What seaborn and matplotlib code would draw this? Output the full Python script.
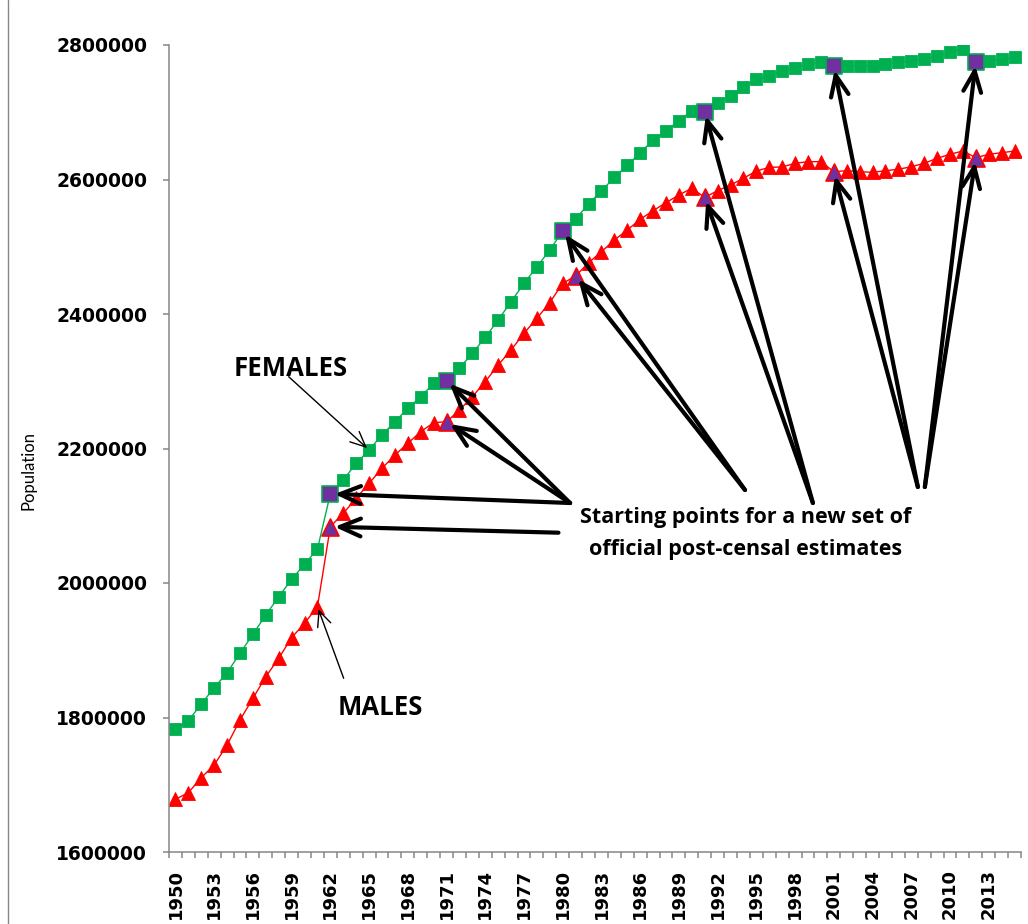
import matplotlib
matplotlib.use("Agg")
import matplotlib.pyplot as plt
from matplotlib.lines import Line2D
import numpy as np
import pandas as pd
import seaborn as sns

# ---------------- data ----------------
years = list(range(1950, 2016))
females = [1782400, 1795200, 1820000, 1844300, 1866600, 1895500, 1923700, 1952400,
           1979600, 2005500, 2027800, 2050600, 2132600, 2153200, 2178000, 2197800,
           2220100, 2239800, 2259800, 2277000, 2297000, 2300800, 2319300, 2341600,
           2365400, 2391100, 2418300, 2445600, 2470300, 2495200, 2523400, 2541300,
           2563600, 2582900, 2603300, 2621100, 2639800, 2658700, 2672600, 2687400,
           2702300, 2700800, 2714200, 2724200, 2737100, 2749000, 2753900, 2761300,
           2765800, 2771300, 2774300, 2768800, 2769200, 2769200, 2769200, 2771300,
           2774300, 2776700, 2778700, 2783600, 2789100, 2794100, 2775200, 2776700,
           2778700, 2781700]
males = [1678400, 1688200, 1710500, 1729400, 1759100, 1796300, 1828500, 1860700,
         1888000, 1918700, 1940100, 1964800, 2083700, 2103600, 2125900, 2148200,
         2170600, 2190300, 2207700, 2225000, 2238400, 2239800, 2257200, 2277000,
         2299300, 2324200, 2346500, 2371300, 2393600, 2417100, 2445600, 2456500,
         2476300, 2492600, 2510000, 2524900, 2540800, 2553600, 2565500, 2577000,
         2586900, 2573500, 2583300, 2591800, 2601800, 2612600, 2618100, 2618600,
         2624100, 2626500, 2626500, 2611600, 2613100, 2611600, 2610700, 2613100,
         2615200, 2619000, 2624100, 2631500, 2637500, 2642400, 2632400, 2637500,
         2639800, 2642400]
female_new_set_years = [1962, 1971, 1980, 1991, 2001, 2012]
male_new_set_years = [1962, 1971, 1981, 1991, 2001, 2012]
y_ticks = [1600000, 1800000, 2000000, 2200000, 2400000, 2600000, 2800000]
x_label_years = years[::3]

df = pd.DataFrame({"year": years, "Females": females, "Males": males})
fem_new = df[df["year"].isin(female_new_set_years)]
mal_new = df[df["year"].isin(male_new_set_years)]

GREEN = "#00B050"
RED = "#FF0000"
PURPLE = "#7030A0"
AXIS_GREY = "#868686"
ANN_FONT = ["Open Sans", "DejaVu Sans"]

sns.set_style("white")
plt.rcParams["font.family"] = ["Open Sans", "DejaVu Sans"]
plt.rcParams["text.color"] = "black"
plt.rcParams["axes.labelcolor"] = "black"
plt.rcParams["xtick.color"] = "black"
plt.rcParams["ytick.color"] = "black"

W, H = 1028, 924
fig = plt.figure(figsize=(W / 100, H / 100), dpi=100)
ax = fig.add_axes([169 / W, 1 - 852 / H, (1021 - 169) / W, (852 - 45) / H])

# main series
sns.lineplot(data=df, x="year", y="Females", color=GREEN, marker="s", markersize=8.6,
             markeredgecolor=GREEN, markeredgewidth=0.6, linewidth=1.0, ax=ax, zorder=2)
sns.lineplot(data=df, x="year", y="Males", color=RED, marker="^", markersize=9.6,
             markeredgecolor=RED, markeredgewidth=0.6, linewidth=1.0, ax=ax, zorder=2)

# starting points of new estimate sets
sns.scatterplot(data=fem_new, x="year", y="Females", marker="s", s=125, color=PURPLE,
                edgecolor=GREEN, linewidth=1.2, ax=ax, zorder=3)
sns.scatterplot(data=mal_new, x="year", y="Males", marker="^", s=150, color=PURPLE,
                edgecolor=RED, linewidth=1.2, ax=ax, zorder=3)

# axes styling
ax.set_xlim(years[0] - 0.5, years[-1] + 0.5)
ax.set_ylim(y_ticks[0], y_ticks[-1])
ax.set_yticks(y_ticks)
ax.set_yticklabels([str(v) for v in y_ticks], fontweight="bold", fontsize=13.5,
                   family="DejaVu Sans")
ax.set_xticks(x_label_years)
ax.set_xticklabels([str(y) for y in x_label_years], rotation=90, fontweight="bold",
                   fontsize=13, family="DejaVu Sans")
ax.set_xticks([y - 0.5 for y in years] + [years[-1] + 0.5], minor=True)
ax.tick_params(axis="y", direction="out", length=4.3, width=1.1, color=AXIS_GREY,
               labelcolor="black", pad=11.5, left=True)
ax.tick_params(axis="x", which="major", length=0, pad=12.5, bottom=True,
               labelcolor="black")
ax.tick_params(axis="x", which="minor", direction="out", length=4, width=1.1,
               color=AXIS_GREY, bottom=True)
for s in ["top", "right"]:
    ax.spines[s].set_visible(False)
for s in ["left", "bottom"]:
    ax.spines[s].set_color(AXIS_GREY)
    ax.spines[s].set_linewidth(1.1)
ax.set_xlabel("")
ax.set_ylabel("Population", fontsize=12, family=["Lato", "DejaVu Sans"], color="black")
ax.yaxis.set_label_coords(-0.155, 0.473)
ax.grid(False)

# text labels
ax.text(1958.9, 2319700, "FEMALES", fontsize=18.5, fontweight="bold", ha="center",
        va="center", family=ANN_FONT, color="black")
ax.text(1965.9, 1815600, "MALES", fontsize=18.5, fontweight="bold", ha="center",
        va="center", family=ANN_FONT, color="black")
ax.text(1994.2, 2098100, "Starting points for a new set of", fontsize=15.5,
        fontweight="bold", ha="center", va="center", family=ANN_FONT, color="black")
ax.text(1994.2, 2050550, "official post-censal estimates", fontsize=15.5,
        fontweight="bold", ha="center", va="center", family=ANN_FONT, color="black")

thin = dict(arrowstyle="->,head_length=0.55,head_width=0.25", color="black", lw=1.0,
            shrinkA=0, shrinkB=2, mutation_scale=20)
ax.annotate("", xy=(1965, females[years.index(1965)]), xytext=(1958.77, 2306800),
            arrowprops=thin)
ax.annotate("", xy=(1961, males[years.index(1961)]), xytext=(1963.03, 1858300),
            arrowprops=thin)

thick = dict(arrowstyle="->,head_length=0.75,head_width=0.32", color="black", lw=3.0,
             shrinkA=0, shrinkB=3, mutation_scale=20)
origins_f = {1962: (1980.57, 2118950), 1971: (1980.57, 2118950), 1980: (1994.12, 2138290),
             1991: (1999.38, 2118950), 2001: (2007.51, 2142750), 2012: (2008.05, 2142750)}
origins_m = {1962: (1979.67, 2074790), 1971: (1980.57, 2118950), 1981: (1994.12, 2138290),
             1991: (1999.38, 2118950), 2001: (2007.51, 2142750), 2012: (2008.05, 2142750)}
for yr in female_new_set_years:
    ax.annotate("", xy=(yr, females[years.index(yr)]), xytext=origins_f[yr],
                arrowprops=thick, zorder=5)
for yr in male_new_set_years:
    ax.annotate("", xy=(yr, males[years.index(yr)]), xytext=origins_m[yr],
                arrowprops=thick, zorder=5)

# chart frame edge on the left
fig.add_artist(Line2D([8 / W, 8 / W], [0, 1], transform=fig.transFigure,
                      color=AXIS_GREY, lw=1.0))

fig.savefig("out.png", dpi=100)
